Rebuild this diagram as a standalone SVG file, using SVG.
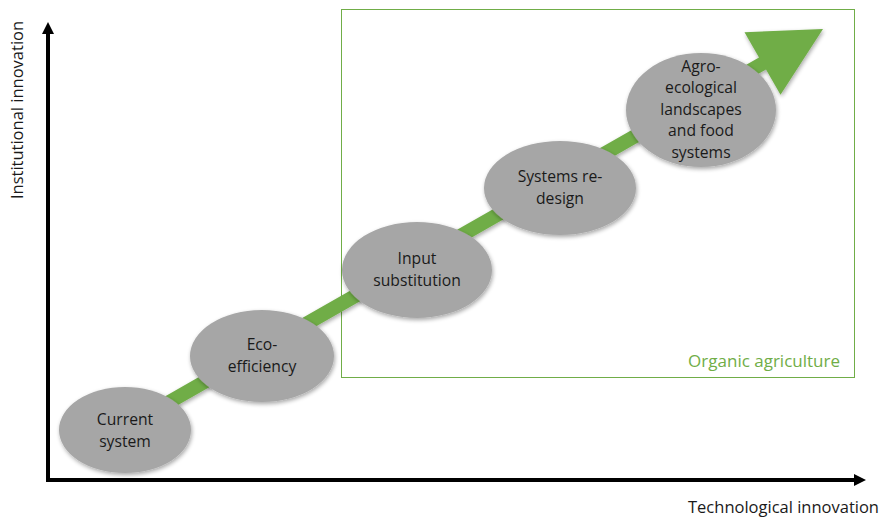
<svg xmlns="http://www.w3.org/2000/svg" width="881" height="517" viewBox="0 0 881 517">
<defs>
<style>
.node{fill:#A6A6A6;filter:url(#sh)}
.t{font-family:"Open Sans","Liberation Sans",sans-serif;font-size:15.7px;fill:#1a1a1a;text-anchor:middle}
.ax{font-family:"Open Sans","Liberation Sans",sans-serif;font-size:16.5px;fill:#1a1a1a}
.axis{stroke:#000;stroke-width:4;fill:none}
</style>
<filter id="sh" x="-20%" y="-20%" width="140%" height="150%">
<feGaussianBlur in="SourceAlpha" stdDeviation="2"/>
<feOffset dx="1" dy="2" result="b"/>
<feComponentTransfer><feFuncA type="linear" slope="0.35"/></feComponentTransfer>
<feMerge><feMergeNode/><feMergeNode in="SourceGraphic"/></feMerge>
</filter>
<marker id="ah" viewBox="0 0 10 10" refX="5" refY="5" markerWidth="3" markerHeight="3" orient="auto">
<path d="M0,0 L10,5 L0,10 z" fill="#000"/>
</marker>
</defs>
<rect width="881" height="517" fill="#fff"/>
<g id="axes">
<line class="axis" x1="48" y1="482" x2="48" y2="28" marker-end="url(#ah)"/>
<line class="axis" x1="46" y1="480" x2="860" y2="480" marker-end="url(#ah)"/>
<text class="ax" transform="translate(23,110) rotate(-90)" text-anchor="middle">Institutional innovation</text>
<text class="ax" x="879" y="513" text-anchor="end">Technological innovation</text>
</g>
<g id="organic">
<rect x="341.5" y="9.5" width="513" height="368" fill="none" stroke="#70AD47" stroke-width="1"/>
<text x="840" y="367" font-family="'Open Sans','Liberation Sans',sans-serif" font-size="17" fill="#70AD47" text-anchor="end">Organic agriculture</text>
</g>
<g id="connectors">
<polygon points="146.5,406.9 759,57.4 744.5,32.2 823,29 780.5,94.8 766,69.6 153.5,419.1" fill="#70AD47" filter="url(#sh)"/>
</g>
<g id="current">
<ellipse class="node" cx="125" cy="430" rx="66" ry="43"/>
<text class="t" x="125" y="425">Current</text>
<text class="t" x="125" y="447">system</text>
</g>
<g id="eco">
<ellipse class="node" cx="262" cy="356" rx="72" ry="46"/>
<text class="t" x="262" y="350">Eco-</text>
<text class="t" x="262" y="372">efficiency</text>
</g>
<g id="input">
<ellipse class="node" cx="417" cy="270" rx="75" ry="48"/>
<text class="t" x="417" y="264">Input</text>
<text class="t" x="417" y="286">substitution</text>
</g>
<g id="redesign">
<ellipse class="node" cx="560" cy="188" rx="76" ry="47"/>
<text class="t" x="560" y="182">Systems re-</text>
<text class="t" x="560" y="204">design</text>
</g>
<g id="agro">
<ellipse class="node" cx="701" cy="110" rx="75" ry="57"/>
<text class="t" x="701" y="72">Agro-</text>
<text class="t" x="701" y="93">ecological</text>
<text class="t" x="701" y="115">landscapes</text>
<text class="t" x="701" y="136">and food</text>
<text class="t" x="701" y="158">systems</text>
</g>
</svg>
